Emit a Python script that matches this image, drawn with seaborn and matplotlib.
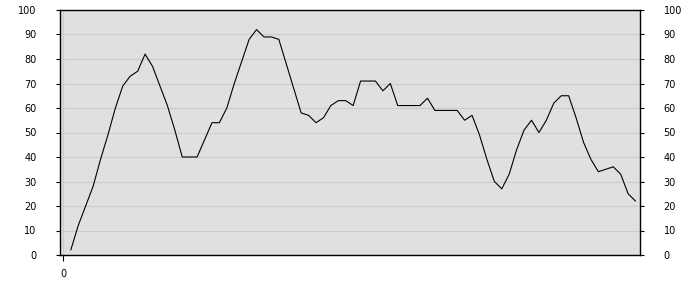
import matplotlib
matplotlib.use("Agg")
import matplotlib.pyplot as plt
import seaborn as sns
import pandas as pd

# Data
positions = list(range(1, 78))
values = [2, 12, 20, 28, 39, 49, 60, 69, 73, 75,
          82, 77, 69, 61, 51, 40, 40, 40, 47, 54,
          54, 60, 70, 79, 88, 92, 89, 89, 88, 78,
          68, 58, 57, 54, 56, 61, 63, 63, 61, 71,
          71, 71, 67, 70, 61, 61, 61, 61, 64, 59,
          59, 59, 59, 55, 57, 49, 39, 30, 27, 33,
          43, 51, 55, 50, 55, 62, 65, 65, 56, 46,
          39, 34, 35, 36, 33, 25, 22]
y_ticks = list(range(0, 101, 10))
x_ticks = [0]

df = pd.DataFrame({"x": positions, "y": values})

sns.set_style("white")
plt.rcParams["font.family"] = ["DejaVu Sans"]

fig = plt.figure(figsize=(7, 3), dpi=100)
ax = fig.add_axes([60 / 700, 1 - 255 / 300, 580 / 700, 245 / 300])
ax.set_facecolor("#e0e0e0")

sns.lineplot(data=df, x="x", y="y", ax=ax, color="black", linewidth=0.8)

ax.set_ylim(0, 100)
ax.set_xlim(-0.45, 77.6)
ax.set_yticks(y_ticks)
ax.set_xticks(x_ticks)
ax.set_xticklabels([str(t) for t in x_ticks])
ax.grid(True, axis="y", color="#cccccc", linewidth=0.8)
ax.grid(True, axis="x", color="#cccccc", linewidth=0.8)
ax.set_axisbelow(True)
ax.set_xlabel("")
ax.set_ylabel("")

for side in ("left", "right", "top", "bottom"):
    ax.spines[side].set_visible(True)
    ax.spines[side].set_color("black")
    ax.spines[side].set_linewidth(1.0)

ax.tick_params(axis="y", which="both", left=True, right=True,
               labelleft=True, labelright=True, length=3, width=0.8,
               pad=14, labelsize=7, colors="black", direction="out")
ax.tick_params(axis="x", bottom=True, length=4, width=0.8, pad=6,
               labelsize=7, colors="black", direction="out")

fig.savefig("out.png", dpi=100, facecolor="white")
